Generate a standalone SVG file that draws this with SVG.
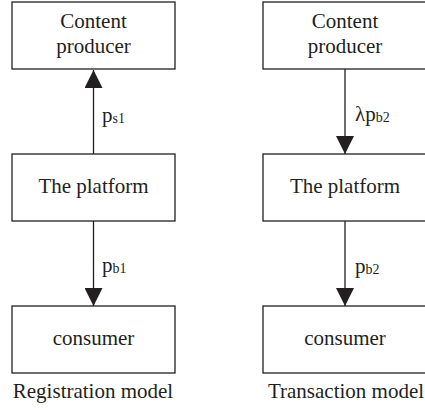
<svg xmlns="http://www.w3.org/2000/svg" width="425" height="411" viewBox="0 0 425 411">
<style>
.box{fill:#fff;stroke:#231f20;stroke-width:1.3}
.t{font-family:"Liberation Serif","DejaVu Serif",serif;font-size:21px;fill:#231f20;text-anchor:middle}
.l{font-family:"Liberation Serif","DejaVu Serif",serif;font-size:21px;fill:#231f20}
.sub{font-size:14px}
.c{stroke:#231f20;stroke-width:1.3;fill:none}
</style>
<defs>
<marker id="ah" markerUnits="userSpaceOnUse" markerWidth="18" markerHeight="18" viewBox="0 0 18 18" refX="18" refY="9" orient="auto">
<path d="M0,0 L18,9 L0,18 Z" fill="#231f20"/>
</marker>
</defs>
<rect width="425" height="411" fill="#fff"/>
<g id="connectors">
<line class="c" x1="93.5" y1="154" x2="93.5" y2="70" marker-end="url(#ah)"/>
<line class="c" x1="93.5" y1="221" x2="93.5" y2="306" marker-end="url(#ah)"/>
<line class="c" x1="345" y1="69" x2="345" y2="154" marker-end="url(#ah)"/>
<line class="c" x1="345" y1="221" x2="345" y2="306" marker-end="url(#ah)"/>
<text class="l" x="102" y="122">p<tspan class="sub" dy="1">s1</tspan></text>
<text class="l" x="102" y="272">p<tspan class="sub" dy="1">b1</tspan></text>
<text class="l" x="355" y="121">λp<tspan class="sub" dy="1">b2</tspan></text>
<text class="l" x="355" y="273">p<tspan class="sub" dy="1">b2</tspan></text>
</g>
<g id="producer1">
<rect class="box" x="12" y="2" width="163" height="67"/>
<text class="t" x="93.5" y="28">Content</text>
<text class="t" x="93.5" y="53">producer</text>
</g>
<g id="platform1">
<rect class="box" x="12" y="154" width="163" height="67"/>
<text class="t" x="93.5" y="193">The platform</text>
</g>
<g id="consumer1">
<rect class="box" x="12" y="306" width="163" height="67"/>
<text class="t" x="93.5" y="345">consumer</text>
</g>
<g id="producer2">
<rect class="box" x="263" y="2" width="164" height="67"/>
<text class="t" x="345" y="28">Content</text>
<text class="t" x="345" y="53">producer</text>
</g>
<g id="platform2">
<rect class="box" x="263" y="154" width="164" height="67"/>
<text class="t" x="345" y="193">The platform</text>
</g>
<g id="consumer2">
<rect class="box" x="263" y="306" width="164" height="67"/>
<text class="t" x="345" y="345">consumer</text>
</g>
<text class="t" x="93" y="398">Registration model</text>
<text class="t" x="346" y="398">Transaction model</text>
</svg>
